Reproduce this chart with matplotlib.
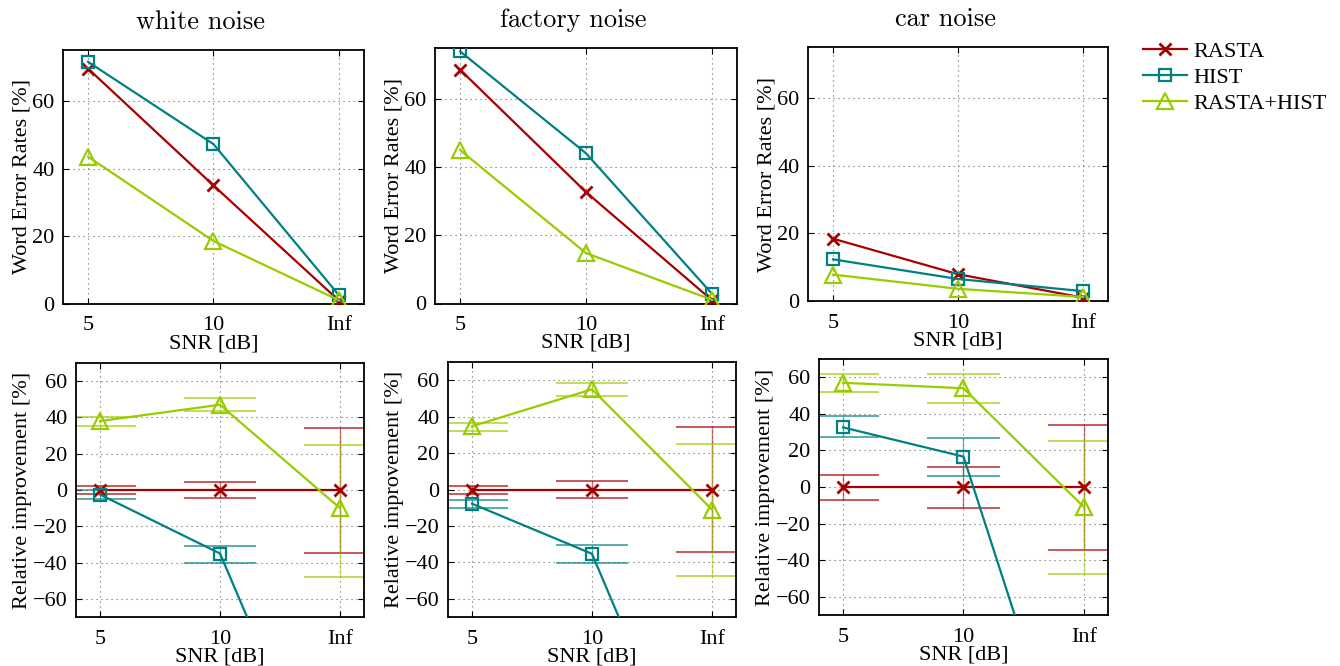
import matplotlib
matplotlib.use("Agg")
import matplotlib.pyplot as plt
from matplotlib.lines import Line2D
import numpy as np

# ---------------- data ----------------
snr_labels = ["5", "10", "Inf"]
noise_titles = ["white noise", "factory noise", "car noise"]
series_names = ["RASTA", "HIST", "RASTA+HIST"]

# Word error rates [%]
wer_white_rasta = [69.5, 35.0, 1.0]
wer_white_hist = [71.5, 47.2, 2.6]
wer_white_rh = [43.5, 18.6, 1.1]
wer_factory_rasta = [68.6, 32.7, 1.0]
wer_factory_hist = [74.0, 44.1, 2.9]
wer_factory_rh = [45.0, 14.8, 1.1]
wer_car_rasta = [18.4, 7.9, 1.0]
wer_car_hist = [12.3, 6.5, 2.9]
wer_car_rh = [7.8, 3.6, 1.2]

# Relative improvement [%] and error-bar bounds (lower, upper)
rel_white_rasta = [0.0, 0.0, 0.0]
rel_white_rasta_lo = [-2.4, -4.5, -34.5]
rel_white_rasta_hi = [2.0, 4.5, 34.1]
rel_white_hist = [-2.5, -35.0, -190.0]
rel_white_hist_lo = [-4.8, -40.0, -240.0]
rel_white_hist_hi = [-0.2, -30.6, -140.0]
rel_white_rh = [38.0, 47.0, -10.0]
rel_white_rh_lo = [35.2, 43.7, -47.7]
rel_white_rh_hi = [40.0, 50.8, 25.0]

rel_factory_rasta = [0.0, 0.0, 0.0]
rel_factory_rasta_lo = [-2.5, -4.7, -34.4]
rel_factory_rasta_hi = [2.1, 4.7, 34.4]
rel_factory_hist = [-7.8, -35.3, -191.0]
rel_factory_hist_lo = [-10.2, -40.6, -240.0]
rel_factory_hist_hi = [-5.6, -30.5, -140.0]
rel_factory_rh = [34.7, 55.0, -11.0]
rel_factory_rh_lo = [32.2, 51.4, -47.4]
rel_factory_rh_hi = [36.7, 58.7, 25.0]

rel_car_rasta = [0.0, 0.0, 0.0]
rel_car_rasta_lo = [-7.0, -11.5, -34.6]
rel_car_rasta_hi = [6.6, 11.0, 34.0]
rel_car_hist = [32.6, 16.6, -187.0]
rel_car_hist_lo = [27.1, 6.0, -240.0]
rel_car_hist_hi = [38.8, 26.7, -140.0]
rel_car_rh = [57.0, 54.0, -11.0]
rel_car_rh_lo = [52.1, 45.9, -47.6]
rel_car_rh_hi = [61.6, 61.6, 25.0]

# ---------------- style ----------------
colors = ["#a80000", "#008080", "#99cc00"]
markers = [dict(marker="x", ms=8, mew=2.0),
           dict(marker="s", ms=9, mew=1.6, mfc="none"),
           dict(marker="^", ms=11.5, mew=1.6, mfc="none")]

plt.rcParams["font.family"] = ["Liberation Serif", "DejaVu Serif"]
plt.rcParams["font.size"] = 16
FS = 16

W, H = 1340, 666
fig = plt.figure(figsize=(W / 100, H / 100), dpi=100)

def px_axes(l, r, t, b):
    return fig.add_axes([l / W, 1 - b / H, (r - l) / W, (b - t) / H])

top_boxes = [(63, 364, 50, 304), (435, 737, 48, 303.5), (808, 1108, 47, 301)]
bot_boxes = [(76, 364, 363, 617), (448, 736, 362, 617), (819, 1108, 359, 615)]

wer_data = [
    [wer_white_rasta, wer_white_hist, wer_white_rh],
    [wer_factory_rasta, wer_factory_hist, wer_factory_rh],
    [wer_car_rasta, wer_car_hist, wer_car_rh],
]
rel_data = [
    [(rel_white_rasta, rel_white_rasta_lo, rel_white_rasta_hi),
     (rel_white_hist, rel_white_hist_lo, rel_white_hist_hi),
     (rel_white_rh, rel_white_rh_lo, rel_white_rh_hi)],
    [(rel_factory_rasta, rel_factory_rasta_lo, rel_factory_rasta_hi),
     (rel_factory_hist, rel_factory_hist_lo, rel_factory_hist_hi),
     (rel_factory_rh, rel_factory_rh_lo, rel_factory_rh_hi)],
    [(rel_car_rasta, rel_car_rasta_lo, rel_car_rasta_hi),
     (rel_car_hist, rel_car_hist_lo, rel_car_hist_hi),
     (rel_car_rh, rel_car_rh_lo, rel_car_rh_hi)],
]

x = np.arange(1, len(snr_labels) + 1)
cap_half = 0.3

def style_axes(ax, yticks, ylim):
    ax.set_xlim(0.8, 3.2)
    ax.set_ylim(*ylim)
    ax.set_xticks(x)
    ax.set_xticklabels(snr_labels)
    ax.set_yticks(yticks)
    ax.tick_params(direction="in", top=True, right=True, length=4, width=0.8,
                   labelsize=FS)
    ax.tick_params(axis="x", pad=9)
    ax.tick_params(axis="y", pad=6)
    ax.grid(True, color="0.4", linestyle=(0, (1, 3.5)), linewidth=0.8)
    for s in ax.spines.values():
        s.set_linewidth(1.3)
    ax.set_xlabel("SNR [dB]", fontsize=FS, labelpad=-1)

for i in range(3):
    ax = px_axes(*top_boxes[i])
    for j in range(3):
        ax.plot(x, wer_data[i][j], color=colors[j], lw=1.6, zorder=3, **markers[j])
    style_axes(ax, [0, 20, 40, 60], (0, 75))
    ax.set_ylabel("Word Error Rates [%]", fontsize=FS, labelpad=0.5)
    ax.text(0.5 - 13 / 301, 1 + 21 / 254, noise_titles[i], transform=ax.transAxes,
            ha="center", va="baseline", fontsize=19, family=["cmr10", "DejaVu Serif"])

    axb = px_axes(*bot_boxes[i])
    for j in range(3):
        vals, lo, hi = rel_data[i][j]
        axb.vlines(x, lo, hi, color=colors[j], lw=1.0, alpha=0.55, zorder=2)
        axb.hlines(lo, x - cap_half, x + cap_half, color=colors[j], lw=1.3, alpha=0.7, zorder=2)
        axb.hlines(hi, x - cap_half, x + cap_half, color=colors[j], lw=1.3, alpha=0.7, zorder=2)
    for j in range(3):
        vals = rel_data[i][j][0]
        axb.plot(x, vals, color=colors[j], lw=1.6, zorder=3, **markers[j])
    style_axes(axb, [-60, -40, -20, 0, 20, 40, 60], (-70, 70))
    axb.set_ylabel("Relative improvement [%]", fontsize=FS, labelpad=0.5)

handles = [Line2D([], [], color=colors[j], lw=1.6, **markers[j]) for j in range(3)]
fig.legend(handles, series_names, loc="upper left",
           bbox_to_anchor=(1143 / W, 1 - 41 / H), frameon=False,
           handlelength=2.0, handletextpad=0.25, labelspacing=0.26, fontsize=FS,
           borderaxespad=0, borderpad=0)

fig.savefig("out.png", dpi=100)
